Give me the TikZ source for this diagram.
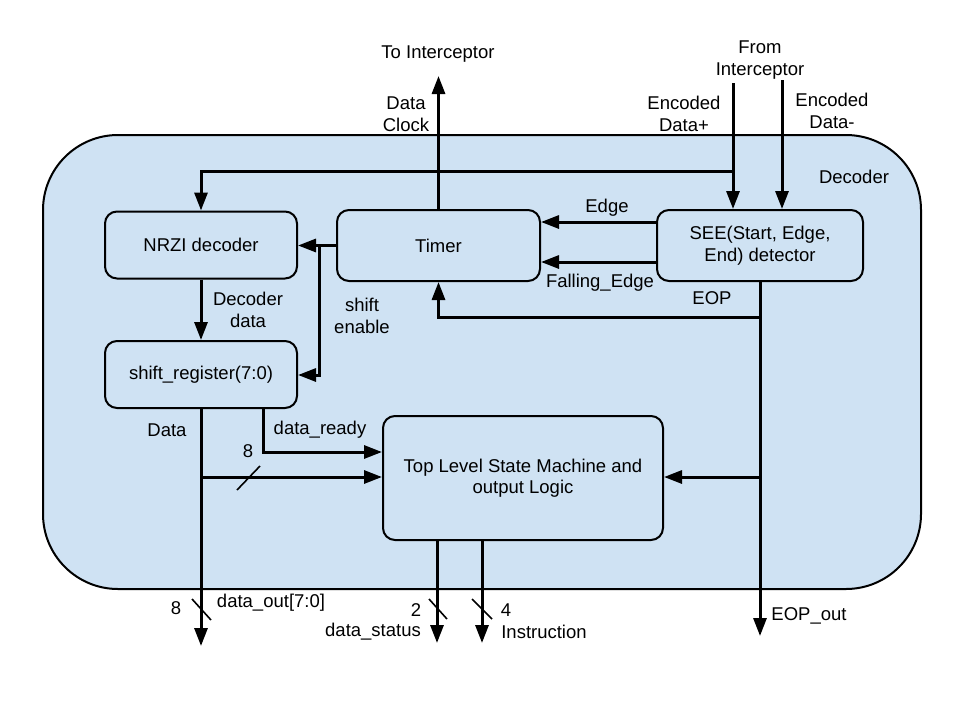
\documentclass[tikz,border=0pt]{standalone}
\usepackage{fontspec}
\setmainfont{Liberation Sans}
\usetikzlibrary{arrows.meta}
\definecolor{boxblue}{HTML}{CFE2F3}
\tikzset{
  blk/.style={draw, line width=2pt, fill=boxblue, rounded corners=12pt, inner sep=0pt, align=center},
  sig/.style={line width=3pt, -{Triangle[length=18pt,width=13pt]}},
  wire/.style={line width=3pt},
  bus/.style={line width=1.6pt},
  lbl/.style={inner sep=0pt, align=center}
}
\begin{document}
\begin{tikzpicture}[x=1pt,y=-1pt, font=\fontsize{18.5}{21.5}\selectfont]
\useasboundingbox (0,0) rectangle (960,720);
\fill[white] (0,0) rectangle (960,720);
% outer decoder box
\draw[line width=2pt, fill=boxblue, rounded corners=75pt] (43,135) rectangle (921,589);
% blocks
\node[blk, minimum width=192pt, minimum height=67pt] (nrzi) at (201,245) {NRZI decoder};
\node[blk, minimum width=203pt, minimum height=71pt] (timer) at (438.5,245.5) {Timer};
\node[blk, minimum width=206pt, minimum height=71pt] (see) at (760,245.5) {SEE(Start, Edge,\\End) detector};
\node[blk, minimum width=192pt, minimum height=67pt] (shift) at (201,374.5) {shift\_register(7:0)};
\node[blk, minimum width=280pt, minimum height=124pt] (top) at (523,478) {Top Level State Machine and\\output Logic};
% coordinates
\coordinate (dpin) at (733,83);
\coordinate (dmin) at (782,80);
\coordinate (clk) at (438.5,76);
\coordinate (eopout) at (760,636);
\coordinate (dataout) at (201,646);
\coordinate (dstat) at (437,643);
\coordinate (instr) at (482,643);
% inputs
\draw[sig] (dpin) -- (dpin |- see.north);
\draw[sig] (dmin) -- (dmin |- see.north);
\draw[sig] (733,171) -- (nrzi.north |- 733,171) -- (nrzi.north);
% clock out
\draw[sig] (timer.north) -- (clk);
% edge signals
\draw[sig] (see.west |- 0,222) -- (timer.east |- 0,222);
\draw[sig] (see.west |- 0,262) -- (timer.east |- 0,262);
% timer to nrzi and shift enable
\draw[sig] (timer.west) -- (nrzi.east |- timer.west);
\draw[sig] (319,246) -- (319,375) -- (shift.east |- 0,375);
% decoder data
\draw[sig] (nrzi.south) -- (shift.south |- nrzi.south) -- (shift.north);
% EOP
\draw[sig] (see.south) -- (eopout);
\draw[sig] (760,317) -- (timer.south |- 0,317) -- (timer.south);
\draw[sig] (760,477) -- (top.east |- 0,477);
% data
\draw[sig] (shift.south) -- (dataout);
\draw[sig] (201,477) -- (top.west |- 0,477);
\draw[sig] (263,408) -- (263,452) -- (top.west |- 0,452);
% outputs of top
\draw[sig] (top.south -| dstat) -- (dstat);
\draw[sig] (top.south -| instr) -- (instr);
% bus slashes
\draw[bus] (237,490) -- (260,466);
\draw[bus] (192,599) -- (211,620);
\draw[bus] (429,599) -- (447,619);
\draw[bus] (472,599) -- (492,619);
% labels
\node[lbl] (l1) at (438,54) {To Interceptor};
\node[lbl] (l2) at (760,60) {From\\Interceptor};
\node[lbl] (l3) at (406,114) {Data\\Clock};
\node[lbl] (l4) at (684,114) {Encoded\\Data+};
\node[lbl] (l5) at (832,111) {Encoded\\Data-};
\node[lbl] (l6) at (854,177) {Decoder};
\node[lbl] (l7) at (607,208) {Edge};
\node[lbl] (l8) at (600,283) {Falling\_Edge};
\node[lbl] (l9) at (712,298) {EOP};
\node[lbl] (l10) at (362,316) {shift\\enable};
\node[lbl] (l11) at (248,310) {Decoder\\data};
\node[lbl] (l12) at (167,430) {Data};
\node[lbl] (l13) at (320,430) {data\_ready};
\node[lbl] (l14) at (248,451) {8};
\node[lbl] (l15) at (176,608) {8};
\node[lbl] (l16) at (271,603) {data\_out[7:0]};
\node[lbl] (l17) at (416,610) {2};
\node[lbl] (l18) at (373,632) {data\_status};
\node[lbl] (l19) at (506,610) {4};
\node[lbl] (l20) at (544,632) {Instruction};
\node[lbl] (l21) at (809,616) {EOP\_out};
\end{tikzpicture}
\end{document}
